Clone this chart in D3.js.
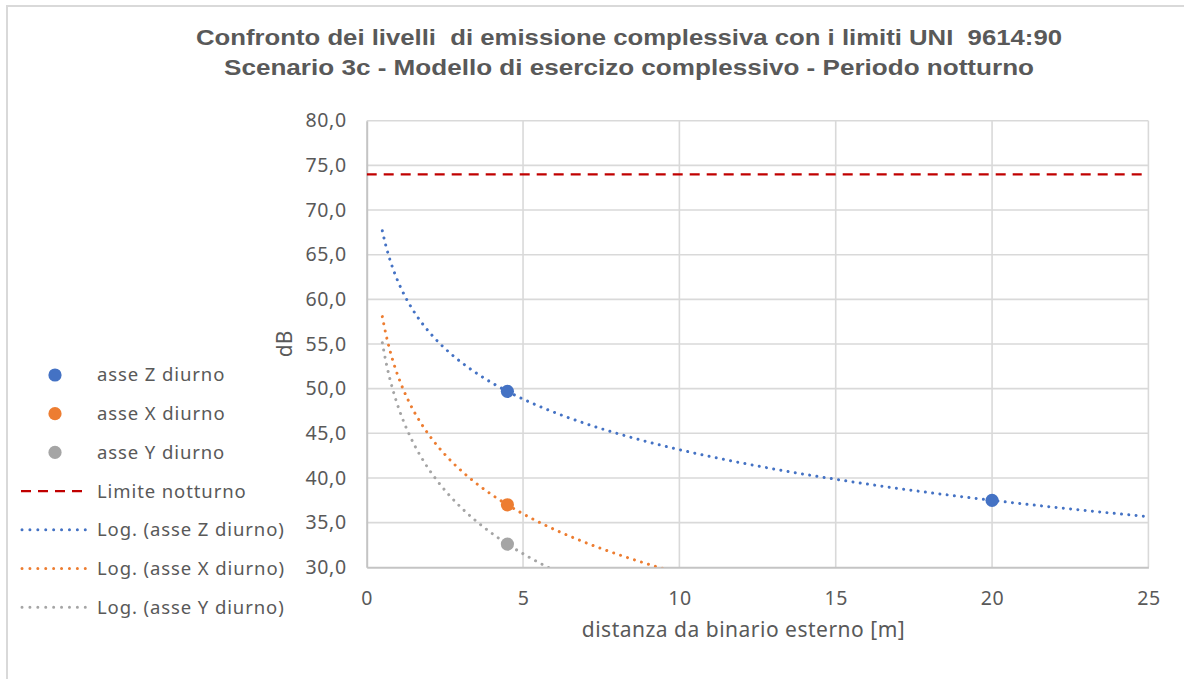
<!DOCTYPE html>
<html>
<head>
<meta charset="utf-8">
<script src="https://cdn.jsdelivr.net/npm/d3@7"></script>
<style>
  html, body { margin: 0; padding: 0; background: #ffffff; }
  svg { display: block; }
</style>
</head>
<body>
<svg id="chart" width="1184" height="679"></svg>
<script>
// Distances (m) at which the levels were measured
const distances = [4.5, 20];
// Levels (dB) per measurement axis
const asseZ = [49.7, 37.5];
const asseX = [37.0, 22.7];
const asseY = [32.6, 17.3];
// Night-time limit (dB)
const limiteNotturno = 74.0;
// Span over which the logarithmic trendlines are drawn (m)
const trendSpan = [0.5, 25];

const xTicks = [0, 5, 10, 15, 20, 25];
const yTicks = [30, 35, 40, 45, 50, 55, 60, 65, 70, 75, 80];

const titleLines = [
  "Confronto dei livelli  di emissione complessiva con i limiti UNI  9614:90",
  "Scenario 3c - Modello di esercizo complessivo - Periodo notturno"
];
const xTitle = "distanza da binario esterno [m]";
const yTitle = "dB";

const series = [
  { name: "asse Z diurno", values: asseZ, color: "#4472C4" },
  { name: "asse X diurno", values: asseX, color: "#ED7D31" },
  { name: "asse Y diurno", values: asseY, color: "#A5A5A5" }
];

const svg = d3.select("#chart");
const W = 1184, H = 679;
const plot = { left: 366.7, right: 1148.4, top: 120.7, bottom: 567.3 };

const x = d3.scaleLinear().domain([0, 25]).range([plot.left, plot.right]);
const y = d3.scaleLinear().domain([30, 80]).range([plot.bottom, plot.top]);

const textColor = "#595959";
const font = "'Noto Sans', 'Open Sans', sans-serif";

// outer chart frame
svg.append("rect")
  .attr("x", 7).attr("y", 6)
  .attr("width", W + 20).attr("height", H + 20)
  .attr("fill", "#ffffff")
  .attr("stroke", "#d9d9d9").attr("stroke-width", 2);

// title, two centred lines
const titleWidths = [866, 810];
titleLines.forEach((t, i) => {
  svg.append("text")
    .attr("x", 629).attr("y", 45 + i * 30)
    .attr("text-anchor", "middle")
    .attr("font-family", "'Liberation Sans', Arial, sans-serif")
    .attr("font-weight", "bold")
    .attr("font-size", 21.5)
    .attr("fill", textColor)
    .attr("textLength", titleWidths[i])
    .attr("lengthAdjust", "spacingAndGlyphs")
    .style("white-space", "pre")
    .text(t);
});

// clip for plotted data
svg.append("defs").append("clipPath").attr("id", "plotClip")
  .append("rect")
  .attr("x", plot.left).attr("y", plot.top)
  .attr("width", plot.right - plot.left).attr("height", plot.bottom - plot.top);

// gridlines
const grid = svg.append("g");
grid.selectAll("line.h").data(yTicks.filter(v => v !== 30)).join("line")
  .attr("x1", plot.left).attr("x2", plot.right)
  .attr("y1", d => y(d)).attr("y2", d => y(d))
  .attr("stroke", "#d9d9d9").attr("stroke-width", 1.6);
grid.selectAll("line.v").data(xTicks.filter(v => v !== 0)).join("line")
  .attr("y1", plot.top).attr("y2", plot.bottom)
  .attr("x1", d => x(d)).attr("x2", d => x(d))
  .attr("stroke", "#d9d9d9").attr("stroke-width", 1.6);

// axes
const yAxis = d3.axisLeft(y).tickValues(yTicks).tickSize(0).tickPadding(20)
  .tickFormat(d => d3.format(".1f")(d).replace(".", ","));
const gy = svg.append("g").attr("transform", `translate(${plot.left},0)`).call(yAxis);
const xAxis = d3.axisBottom(x).tickValues(xTicks).tickSize(0).tickPadding(24)
  .tickFormat(d3.format("d"));
const gx = svg.append("g").attr("transform", `translate(0,${plot.bottom})`).call(xAxis);
[gx, gy].forEach(g => {
  g.select(".domain").attr("stroke", "#c4c4c4").attr("stroke-width", 2);
  g.selectAll("text").attr("font-family", font).attr("font-size", 19.5)
    .attr("letter-spacing", "0.6px")
    .attr("fill", textColor);
});

// axis titles
svg.append("text")
  .attr("x", 743.5).attr("y", 637)
  .attr("text-anchor", "middle")
  .attr("font-family", font).attr("font-size", 21).attr("fill", textColor)
  .attr("letter-spacing", "0.5px")
  .text(xTitle);
svg.append("text")
  .attr("transform", `translate(292,${(plot.top + plot.bottom) / 2}) rotate(-90)`)
  .attr("text-anchor", "middle")
  .attr("font-family", font).attr("font-size", 21).attr("fill", textColor)
  .text(yTitle);

const dataLayer = svg.append("g").attr("clip-path", "url(#plotClip)");

// night limit
dataLayer.append("line")
  .attr("x1", plot.left).attr("x2", plot.right)
  .attr("y1", y(limiteNotturno)).attr("y2", y(limiteNotturno))
  .attr("stroke", "#C00000").attr("stroke-width", 2.3)
  .attr("stroke-dasharray", "10 7");

// least-squares fit of v = a + b ln(d)
function logFit(xs, ys) {
  const lx = xs.map(Math.log);
  const mx = d3.mean(lx), my = d3.mean(ys);
  const b = d3.sum(lx, (v, i) => (v - mx) * (ys[i] - my)) / d3.sum(lx, v => (v - mx) ** 2);
  const a = my - b * mx;
  return t => a + b * Math.log(t);
}

const line = d3.line().x(d => x(d[0])).y(d => y(d[1]));
series.forEach(s => {
  const f = logFit(distances, s.values);
  const pts = d3.range(0, 401).map(i => {
    const t = trendSpan[0] + (trendSpan[1] - trendSpan[0]) * i / 400;
    return [t, f(t)];
  });
  dataLayer.append("path")
    .attr("d", line(pts))
    .attr("fill", "none")
    .attr("stroke", s.color).attr("stroke-width", 3)
    .attr("stroke-linecap", "round")
    .attr("stroke-dasharray", "0.01 7.3");
});

series.forEach(s => {
  dataLayer.selectAll(null).data(distances.map((d, i) => [d, s.values[i]])).join("circle")
    .attr("cx", d => x(d[0])).attr("cy", d => y(d[1]))
    .attr("r", 6.6).attr("fill", s.color);
});

// legend
const legendItems = [
  ...series.map(s => ({ label: s.name, type: "marker", color: s.color })),
  { label: "Limite notturno", type: "dash", color: "#C00000" },
  ...series.map(s => ({ label: "Log. (" + s.name + ")", type: "dot", color: s.color }))
];
const legend = svg.append("g");
legendItems.forEach((it, i) => {
  const cy = 375 + i * 38.7;
  const g = legend.append("g");
  if (it.type === "marker") {
    g.append("circle").attr("cx", 55).attr("cy", cy).attr("r", 6.6).attr("fill", it.color);
  } else if (it.type === "dash") {
    g.append("line").attr("x1", 21).attr("x2", 86).attr("y1", cy).attr("y2", cy)
      .attr("stroke", it.color).attr("stroke-width", 2.3).attr("stroke-dasharray", "10 7");
  } else {
    g.append("line").attr("x1", 22).attr("x2", 86).attr("y1", cy).attr("y2", cy)
      .attr("stroke", it.color).attr("stroke-width", 3)
      .attr("stroke-linecap", "round").attr("stroke-dasharray", "0.01 7.9");
  }
  g.append("text").attr("x", 97).attr("y", cy).attr("dy", "0.35em")
    .attr("font-family", font).attr("font-size", 18.5).attr("fill", textColor)
    .attr("letter-spacing", "0.9px")
    .text(it.label);
});
</script>
</body>
</html>
